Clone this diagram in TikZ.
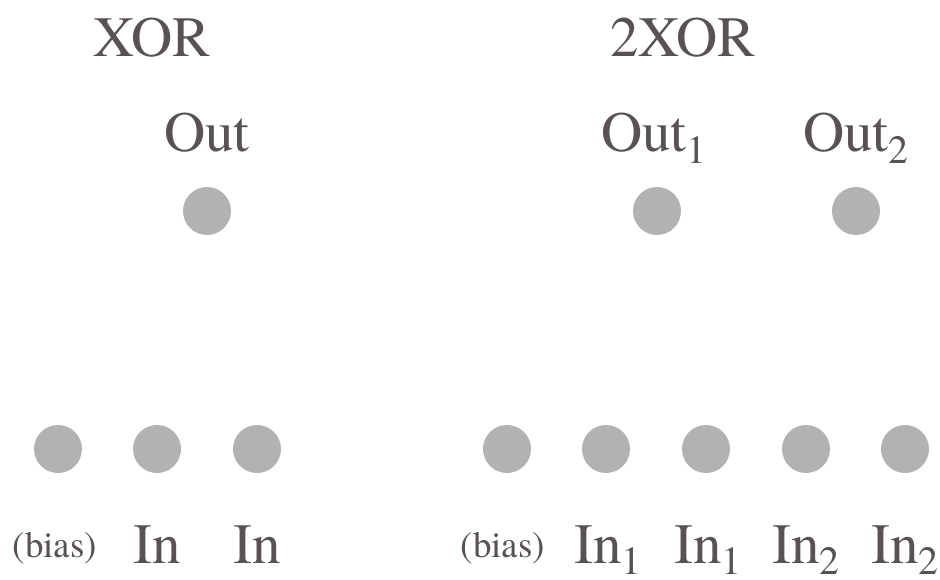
\documentclass[tikz,border=0pt]{standalone}
\usepackage{fontspec}
\setmainfont{texgyretermes}[Extension=.otf,UprightFont=*-regular,BoldFont=*-bold,ItalicFont=*-italic,BoldItalicFont=*-bolditalic]
\definecolor{ink}{RGB}{88,82,82}
\definecolor{unit}{RGB}{178,178,178}
\newcommand{\lowidx}[1]{\raisebox{-0.2em}{\fontsize{40}{40}\selectfont #1}}
\begin{document}
\begin{tikzpicture}[x=1pt,y=-1pt,
  neuron/.style={circle,fill=unit,draw=none,minimum size=48pt,inner sep=0pt},
  big/.style={text=ink,inner sep=0pt,anchor=base,font=\fontsize{57}{57}\selectfont},
  small/.style={text=ink,inner sep=0pt,anchor=base,font=\fontsize{37}{37}\selectfont}]
\useasboundingbox (0,0) rectangle (940,580);

% titles
\node[big] (t1) at (152,57) {XOR};
\node[big] (t2) at (683,57) {2XOR};

% single XOR network
\node[big] (lo) at (207,152) {Out};
\node[neuron] (o) at (207,211) {};
\node[neuron] (b) at (58,449) {};
\node[neuron] (i1) at (157,449) {};
\node[neuron] (i2) at (257,449) {};
\node[small] (lb) at (55,557) {(bias)};
\node[big] (li1) at (157,563) {In};
\node[big] (li2) at (257,563) {In};

% double XOR network
\node[big] (lo1) at (654,152) {Out\lowidx{1}};
\node[big] (lo2) at (856,152) {Out\lowidx{2}};
\node[neuron] (p1) at (657,211) {};
\node[neuron] (p2) at (856,211) {};
\node[neuron] (c) at (507,449) {};
\node[neuron] (j1) at (606,449) {};
\node[neuron] (j2) at (706,449) {};
\node[neuron] (j3) at (806,449) {};
\node[neuron] (j4) at (905,449) {};
\node[small] (lc) at (503,557) {(bias)};
\node[big] (lj1) at (608,563) {In\lowidx{1}};
\node[big] (lj2) at (708,563) {In\lowidx{1}};
\node[big] (lj3) at (806,563) {In\lowidx{2}};
\node[big] (lj4) at (905,563) {In\lowidx{2}};
\end{tikzpicture}
\end{document}
